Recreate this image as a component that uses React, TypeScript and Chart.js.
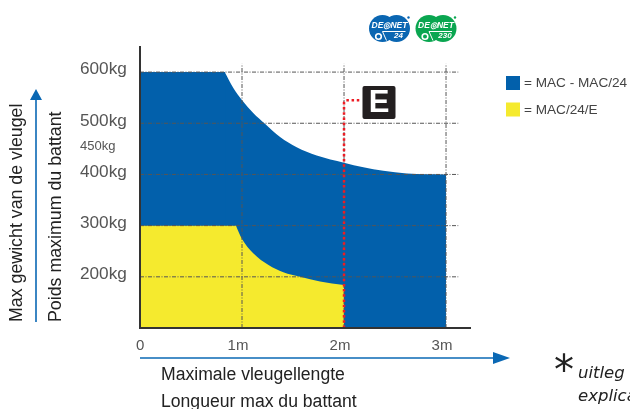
import React, { useEffect, useRef } from "react";
import { Chart, registerables } from "chart.js";

Chart.register(...registerables);

const macFlat = [[0, 600], [0.835, 600]];
const macCurve = [
  [0.83, 600], [0.915, 569], [0.997, 546], [1.11, 520], [1.225, 499], [1.373, 473], [1.536, 453],
  [1.732, 437], [2, 423], [2.19, 414], [2.385, 407], [2.615, 402], [3, 400],
];
const macEFlat = [[0, 300], [0.945, 300]];
const macECurve = [
  [0.94, 300], [0.997, 275], [1.11, 246], [1.26, 223], [1.405, 209], [1.57, 200], [1.765, 191], [2, 184],
];
const eLimit = [[2, 100], [2, 540], [2.02, 545], [2.15, 545]];
const yGridValues = [200, 300, 400, 500, 600];
const xGridValues = [1, 2, 3];
const yTicks = [200, 300, 400, 450, 500, 600];
const xTicks = [0, 1, 2, 3];
const legendItems = ["= MAC - MAC/24", "= MAC/24/E"];
const BLUE = "#0260ab";
const YELLOW = "#f5ea2e";
const FONT = '"Liberation Sans", Arial, sans-serif';

const toPts = (a: number[][]) => a.map(([x, y]) => ({ x, y }));

function arrow(c: CanvasRenderingContext2D, x0: number, y0: number, x1: number, y1: number, len: number, half: number) {
  const ang = Math.atan2(y1 - y0, x1 - x0);
  c.strokeStyle = c.fillStyle = "#0a68b4";
  c.lineWidth = 1.6;
  c.beginPath();
  c.moveTo(x0, y0);
  c.lineTo(x1 - len * Math.cos(ang), y1 - len * Math.sin(ang));
  c.stroke();
  c.save();
  c.translate(x1, y1);
  c.rotate(ang);
  c.beginPath();
  c.moveTo(0, 0);
  c.lineTo(-len, half);
  c.lineTo(-len, -half);
  c.closePath();
  c.fill();
  c.restore();
}

function logo(c: CanvasRenderingContext2D, cx: number, color: string, sub: string) {
  const cy = 28.5;
  c.fillStyle = color;
  [cx - 7, cx + 7].forEach((x) => {
    c.beginPath();
    c.arc(x, cy, 13.5, 0, Math.PI * 2);
    c.fill();
  });
  c.beginPath();
  c.arc(cx + 19, cy - 11, 1.2, 0, Math.PI * 2);
  c.fill();
  c.fillStyle = "#fff";
  c.font = `italic bold 8.5px ${FONT}`;
  c.textAlign = "center";
  c.textBaseline = "middle";
  c.fillText("DE◎NET", cx, cy - 3);
  c.font = `italic bold 8px ${FONT}`;
  c.fillText(sub, cx + 9, cy + 7);
  c.strokeStyle = "#fff";
  c.lineWidth = 1.6;
  c.beginPath();
  c.arc(cx - 11, cy + 8, 2.8, 0, Math.PI * 2);
  c.stroke();
  c.lineWidth = 1;
  c.beginPath();
  c.moveTo(cx - 7, cy + 3);
  c.lineTo(cx - 3, cy + 12);
  c.moveTo(cx - 7, cy + 3);
  c.lineTo(cx + 16, cy + 3);
  c.stroke();
}

const overlay = {
  id: "overlay",
  afterDraw(chart: any) {
    const c: CanvasRenderingContext2D = chart.ctx;
    c.save();
    // E badge
    c.fillStyle = "#231f20";
    c.beginPath();
    c.roundRect(362.5, 86, 33, 33, 2);
    c.fill();
    c.fillStyle = "#fff";
    c.font = `bold 31px ${FONT}`;
    c.textAlign = "center";
    c.textBaseline = "middle";
    c.fillText("E", 379, 103.5);

    // Axis arrows
    arrow(c, 36, 322, 36, 89, 11, 6);
    arrow(c, 140, 358, 510, 358, 17, 6);

    // Rotated axis titles
    c.fillStyle = "#222";
    c.font = `17.8px ${FONT}`;
    c.textAlign = "left";
    c.textBaseline = "middle";
    [["Max gewicht van de vleugel", 17.5], ["Poids maximum du battant", 56]].forEach(([t, x]) => {
      c.save();
      c.translate(x as number, 322);
      c.rotate(-Math.PI / 2);
      c.fillText(t as string, 0, 0);
      c.restore();
    });

    // X title
    c.font = `17.6px ${FONT}`;
    c.fillText("Maximale vleugellengte", 161, 375);
    c.fillText("Longueur max du battant", 161, 402);

    // Legend
    [BLUE, YELLOW].forEach((col, i) => {
      const y = 76 + i * 26.5;
      c.fillStyle = col;
      c.fillRect(506, y, 14, 14);
      c.fillStyle = "#444";
      c.font = `13.6px ${FONT}`;
      c.fillText(legendItems[i], 524, y + 7.5);
    });

    // Logos
    logo(c, 389.5, "#0a66b2", "24");
    logo(c, 436, "#0aa650", "230");

    // Footnote
    c.textAlign = "left";
    c.textBaseline = "middle";
    c.fillStyle = "#222";
    c.font = `40px "DejaVu Sans"`;
    c.fillText("*", 554, 374);
    c.font = `italic 16.5px "DejaVu Sans"`;
    c.fillText("uitleg", 578, 374);
    c.fillText("explication", 578, 397);
    c.restore();
  },
};

export default function App() {
  const ref = useRef<HTMLCanvasElement>(null);
  useEffect(() => {
    const gridSet = (data: number[][]) => ({
      data: toPts(data),
      borderColor: "#555",
      borderWidth: 1,
      borderDash: [4, 1.5, 1, 1.5],
      pointRadius: 0,
      fill: false,
      order: 1,
    });
    const area = (data: number[][], color: string, order: number, curved: boolean) => ({
      data: toPts(data),
      borderWidth: 0,
      backgroundColor: color,
      fill: "start",
      pointRadius: 0,
      order,
      cubicInterpolationMode: curved ? "monotone" : "default",
    });
    const chart = new Chart(ref.current!, {
      type: "line",
      data: {
        datasets: [
          area(macFlat, BLUE, 5, false),
          area(macCurve, BLUE, 5, true),
          area(macEFlat, YELLOW, 3, false),
          area(macECurve, YELLOW, 3, true),
          ...yGridValues.map((v) => gridSet([[0, v], [3.12, v]])),
          ...xGridValues.map((v) => gridSet([[v, 100], [v, 616]])),
          {
            data: toPts(eLimit),
            borderColor: "#ed1c24",
            borderWidth: 2.5,
            borderDash: [2.5, 2.7],
            pointRadius: 0,
            fill: false,
            order: 0,
          },
        ] as any,
      },
      options: {
        responsive: false,
        animation: false,
        parsing: false,
        layout: { padding: { left: 80, right: 160, top: 47, bottom: 0 } },
        plugins: { legend: { display: false }, tooltip: { enabled: false } },
        scales: {
          x: {
            type: "linear",
            min: 0,
            max: 3.235,
            afterBuildTicks: (s: any) => { s.ticks = xTicks.map((value) => ({ value })); },
            afterFit: (s: any) => { s.height = 81; },
            grid: { display: false },
            border: { color: "#333", width: 2, z: 1 },
            ticks: {
              color: "#555",
              font: { family: FONT, size: 15 },
              padding: 1,
              maxRotation: 0,
              autoSkip: false,
              labelOffset: -4,
              callback: (v: any) => (v === 0 ? "  0" : `${v}m`),
            },
          },
          y: {
            type: "linear",
            min: 100,
            max: 649,
            afterBuildTicks: (s: any) => { s.ticks = yTicks.map((value) => ({ value })); },
            afterFit: (s: any) => { s.width = 60; },
            grid: { display: false },
            border: { color: "#333", width: 2, z: 1 },
            ticks: {
              color: "#555",
              crossAlign: "far",
              autoSkip: false,
              labelOffset: -2.5,
              font: (ctx: any) => ({ family: FONT, size: ctx.tick && ctx.tick.value === 450 ? 13 : 17.2 }),
              callback: (v: any) => `${v}kg`,
            },
          },
        },
      } as any,
      plugins: [overlay],
    });
    return () => chart.destroy();
  }, []);
  return <canvas ref={ref} width={630} height={409} style={{ position: "fixed", left: 0, top: 0 }} />;
}
